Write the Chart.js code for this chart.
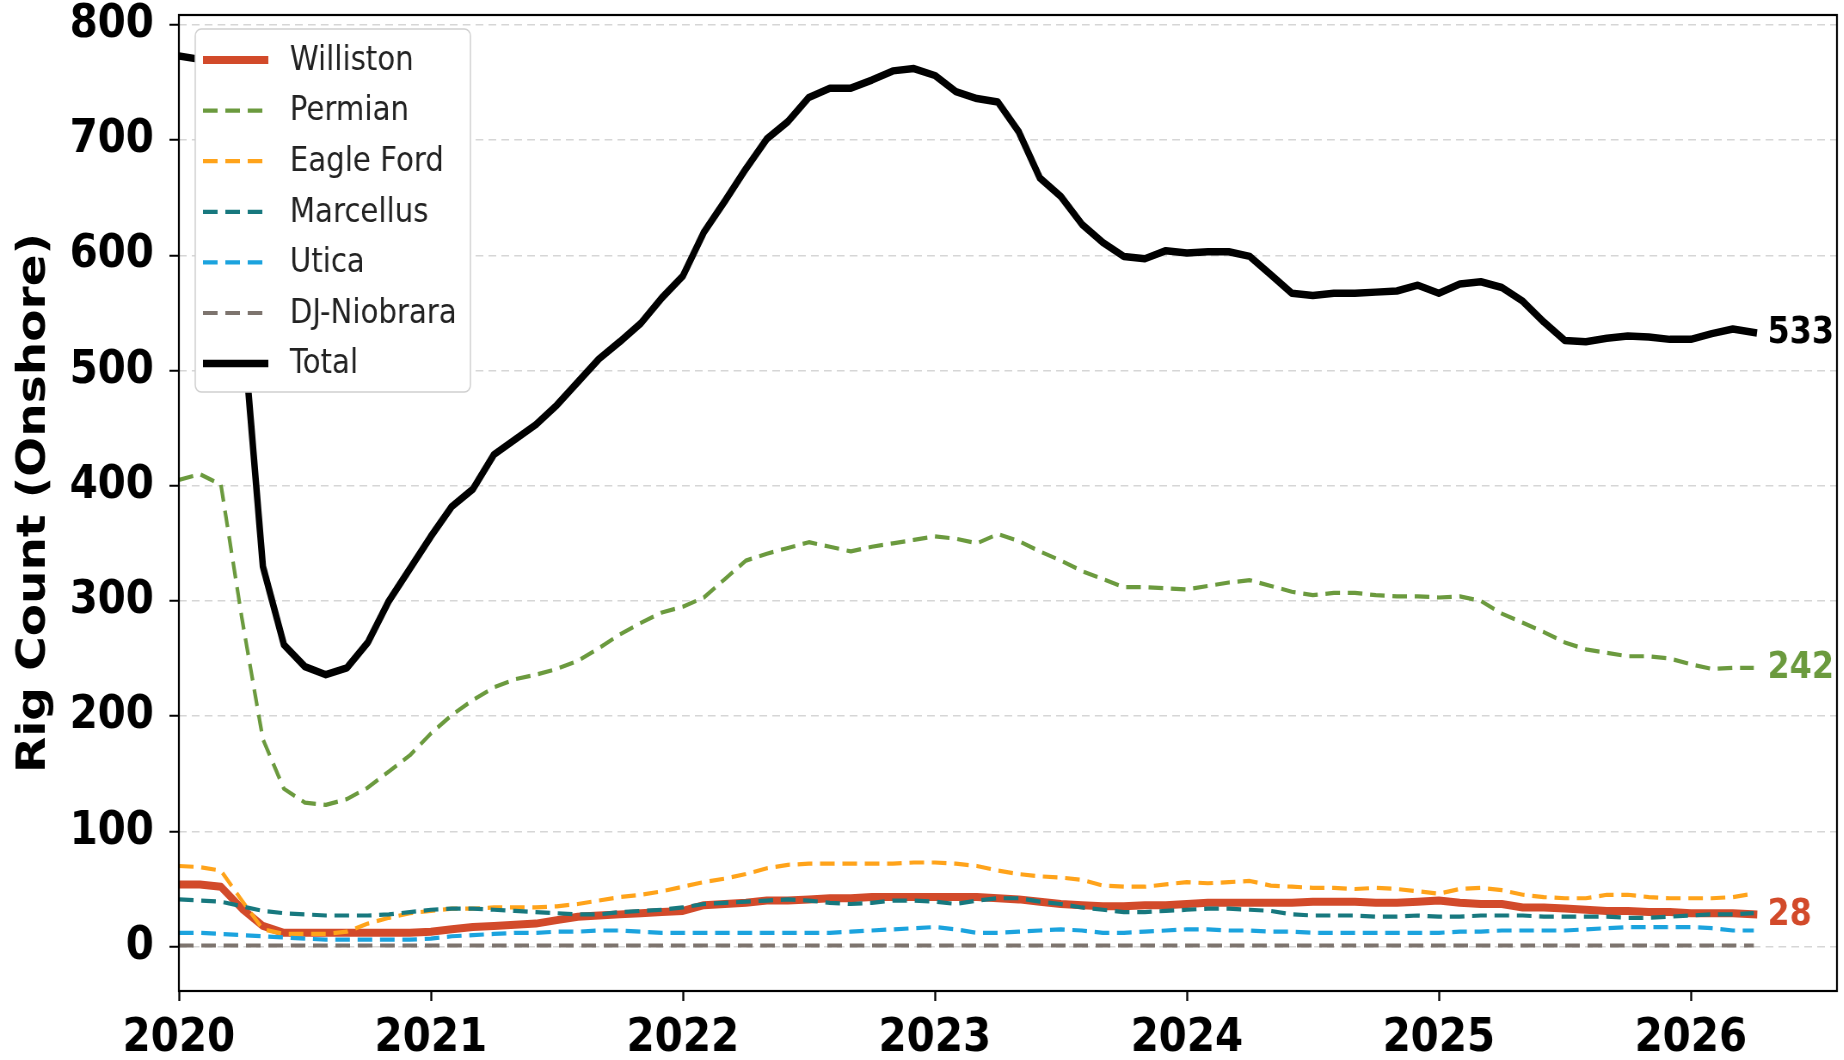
<!DOCTYPE html>
<html>
<head>
<meta charset="utf-8">
<script src="https://cdn.jsdelivr.net/npm/chart.js@4/dist/chart.umd.min.js"></script>
<style>
  html, body { margin: 0; padding: 0; background: #fff; overflow: hidden; }
  /* the reference is a little squeezed sideways, so draw wide and squeeze */
  #wrap { width: 2144px; height: 1060px; transform: scaleX(0.86); transform-origin: 0 0; }
  canvas { display: block; }
</style>
</head>
<body>
<div id="wrap"><canvas id="rig-chart" width="2144" height="1060"></canvas></div>
<script>
'use strict';

// monthly points, Jan 2020 .. Apr 2026
const MONTHS = [
  '2020-01','2020-02','2020-03','2020-04','2020-05','2020-06','2020-07','2020-08','2020-09','2020-10','2020-11','2020-12',
  '2021-01','2021-02','2021-03','2021-04','2021-05','2021-06','2021-07','2021-08','2021-09','2021-10','2021-11','2021-12',
  '2022-01','2022-02','2022-03','2022-04','2022-05','2022-06','2022-07','2022-08','2022-09','2022-10','2022-11','2022-12',
  '2023-01','2023-02','2023-03','2023-04','2023-05','2023-06','2023-07','2023-08','2023-09','2023-10','2023-11','2023-12',
  '2024-01','2024-02','2024-03','2024-04','2024-05','2024-06','2024-07','2024-08','2024-09','2024-10','2024-11','2024-12',
  '2025-01','2025-02','2025-03','2025-04','2025-05','2025-06','2025-07','2025-08','2025-09','2025-10','2025-11','2025-12',
  '2026-01','2026-02','2026-03','2026-04',
];

const WILLISTON = [
  54, 54, 52, 33, 18, 12, 12, 12, 12, 12, 12, 12,
  13, 15, 17, 18, 19, 20, 23, 26, 27, 28, 29, 30,
  31, 36, 37, 38, 40, 40, 41, 42, 42, 43, 43, 43,
  43, 43, 43, 42, 41, 39, 37, 36, 35, 35, 36, 36,
  37, 38, 38, 38, 38, 38, 39, 39, 39, 38, 38, 39,
  40, 38, 37, 37, 34, 34, 33, 32, 31, 31, 30, 30,
  29, 29, 29, 28,
];
const PERMIAN = [
  405, 410, 401, 285, 180, 137, 125, 123, 128, 138, 152, 166,
  185, 201, 214, 225, 232, 236, 241, 248, 259, 271, 281, 290,
  295, 303, 319, 335, 341, 346, 351, 347, 343, 347, 350, 353,
  356, 354, 350, 358, 352, 343, 335, 326, 319, 312, 312, 311,
  310, 313, 316, 318, 313, 308, 305, 307, 307, 305, 304, 304,
  303, 304, 300, 289, 281, 273, 264, 258, 255, 252, 252, 250,
  245, 241, 242, 242,
];
const EAGLE_FORD = [
  70, 69, 66, 40, 15, 11, 11, 11, 13, 20, 25, 29,
  31, 33, 33, 34, 34, 34, 35, 37, 40, 43, 45, 48,
  52, 56, 59, 63, 68, 71, 72, 72, 72, 72, 72, 73,
  73, 72, 70, 66, 63, 61, 60, 58, 53, 52, 52, 54,
  56, 55, 56, 57, 53, 52, 51, 51, 50, 51, 50, 48,
  46, 50, 51, 49, 45, 43, 42, 42, 45, 45, 43, 42,
  42, 42, 43, 46,
];
const MARCELLUS = [
  41, 40, 39, 35, 31, 29, 28, 27, 27, 27, 28, 30,
  32, 33, 33, 32, 31, 30, 29, 28, 28, 30, 31, 32,
  34, 37, 38, 39, 40, 41, 40, 38, 37, 38, 40, 40,
  39, 37, 40, 42, 42, 39, 37, 34, 32, 30, 30, 31,
  32, 33, 33, 32, 31, 28, 27, 27, 27, 26, 26, 27,
  26, 26, 27, 27, 27, 26, 26, 26, 26, 25, 25, 26,
  27, 28, 28, 29,
];
const UTICA = [
  12, 12, 11, 10, 9, 8, 7, 6, 6, 6, 6, 6,
  7, 9, 10, 11, 12, 12, 13, 13, 14, 14, 13, 12,
  12, 12, 12, 12, 12, 12, 12, 12, 13, 14, 15, 16,
  17, 15, 12, 12, 13, 14, 15, 14, 12, 12, 13, 14,
  15, 15, 14, 14, 13, 13, 12, 12, 12, 12, 12, 12,
  12, 13, 13, 14, 14, 14, 14, 15, 16, 17, 17, 17,
  17, 16, 14, 14,
];
const DJ_NIOBRARA = [
  1, 1, 1, 1, 1, 1, 1, 1, 1, 1, 1, 1,
  1, 1, 1, 1, 1, 1, 1, 1, 1, 1, 1, 1,
  1, 1, 1, 1, 1, 1, 1, 1, 1, 1, 1, 1,
  1, 1, 1, 1, 1, 1, 1, 1, 1, 1, 1, 1,
  1, 1, 1, 1, 1, 1, 1, 1, 1, 1, 1, 1,
  1, 1, 1, 1, 1, 1, 1, 1, 1, 1, 1, 1,
  1, 1, 1, 1,
];
const TOTAL = [
  773, 770, 740, 550, 330, 262, 243, 236, 242, 264, 300, 328,
  356, 382, 397, 427, 440, 453, 470, 490, 510, 525, 541, 563,
  582, 620, 647, 675, 701, 716, 737, 745, 745, 752, 760, 762,
  756, 742, 736, 733, 707, 667, 651, 627, 611, 599, 597, 604,
  602, 603, 603, 599, 583, 567, 565, 567, 567, 568, 569, 574,
  567, 575, 577, 572, 560, 542, 526, 525, 528, 530, 529, 527,
  527, 532, 536, 533,
];

const YEAR_TICKS = [2020, 2021, 2022, 2023, 2024, 2025, 2026];
const Y_TICKS = [0, 100, 200, 300, 400, 500, 600, 700, 800];

const FONT = "'DejaVu Sans', 'Liberation Sans', sans-serif";
const DASH = [17, 9];

const SERIES = [
  { label: 'Williston',   values: WILLISTON,   color: '#d24a2a', width: 8,   dash: [] },
  { label: 'Permian',     values: PERMIAN,     color: '#6b9a3e', width: 4.2, dash: DASH },
  { label: 'Eagle Ford',  values: EAGLE_FORD,  color: '#ffa31a', width: 4.2, dash: DASH },
  { label: 'Marcellus',   values: MARCELLUS,   color: '#17787e', width: 4.2, dash: DASH },
  { label: 'Utica',       values: UTICA,       color: '#1ba3de', width: 4.2, dash: DASH },
  { label: 'DJ-Niobrara', values: DJ_NIOBRARA, color: '#7d746e', width: 4.2, dash: DASH },
  { label: 'Total',       values: TOTAL,       color: '#000000', width: 7.5, dash: [] },
];

// value labels at the right end of these lines
const END_LABELS = ['Total', 'Permian', 'Williston'];

function toYear(ym) {
  const [y, m] = ym.split('-').map(Number);
  return y + (m - 1) / 12;
}

const datasets = SERIES.map((s, i) => ({
  label: s.label,
  data: s.values.map((v, k) => ({ x: toYear(MONTHS[k]), y: v })),
  borderColor: s.color,
  backgroundColor: s.color,
  borderWidth: s.width,
  borderDash: s.dash,
  borderCapStyle: s.dash.length ? 'butt' : 'square',
  borderJoinStyle: 'round',
  pointRadius: 0,
  tension: 0,
  fill: false,
  order: SERIES.length - i, // Total on top, Williston at the bottom
}));

// box round the plot area
const framePlugin = {
  id: 'frame',
  afterDatasetsDraw(chart) {
    const { ctx, chartArea: a } = chart;
    ctx.save();
    ctx.strokeStyle = '#000';
    ctx.lineWidth = 2.2;
    ctx.strokeRect(a.left, a.top, a.right - a.left, a.bottom - a.top);
    ctx.restore();
  },
};

const endLabelPlugin = {
  id: 'endLabels',
  afterDatasetsDraw(chart) {
    const { ctx } = chart;
    ctx.save();
    ctx.font = `bold 37px ${FONT}`;
    ctx.textAlign = 'left';
    ctx.textBaseline = 'middle';
    chart.data.datasets.forEach((ds, i) => {
      if (!END_LABELS.includes(ds.label)) return;
      const pts = chart.getDatasetMeta(i).data;
      const last = pts[pts.length - 1];
      ctx.fillStyle = ds.borderColor;
      ctx.fillText(String(ds.data[ds.data.length - 1].y), last.x + 16, last.y + 1);
    });
    ctx.restore();
  },
};

// legend drawn inside the plot, upper left
const legendPlugin = {
  id: 'insideLegend',
  afterDraw(chart) {
    const { ctx } = chart;
    const box = { x: 227, y: 29, w: 320, h: 363, r: 7 };
    ctx.save();
    ctx.beginPath();
    ctx.roundRect(box.x, box.y, box.w, box.h, box.r);
    ctx.fillStyle = '#ffffff';
    ctx.fill();
    ctx.lineWidth = 1.5;
    ctx.strokeStyle = '#d0d0d0';
    ctx.stroke();

    ctx.font = `34px ${FONT}`;
    ctx.textBaseline = 'middle';
    ctx.textAlign = 'left';
    chart.data.datasets.forEach((ds, i) => {
      const y = 60 + i * 50.6;
      ctx.save();
      ctx.strokeStyle = ds.borderColor;
      ctx.lineWidth = ds.borderWidth;
      ctx.setLineDash(ds.borderDash);
      ctx.lineCap = 'butt';
      ctx.beginPath();
      ctx.moveTo(236, y);
      ctx.lineTo(312, y);
      ctx.stroke();
      ctx.restore();
      ctx.fillStyle = '#222';
      ctx.fillText(ds.label, 337, y + 1);
    });
    ctx.restore();
  },
};

const tickFont = { family: FONT, size: 47, weight: 'bold' };

new Chart(document.getElementById('rig-chart'), {
  type: 'line',
  data: { datasets },
  options: {
    responsive: false,
    animation: false,
    devicePixelRatio: 1,
    layout: { padding: { left: 0, right: 8, top: 15, bottom: 0 } },
    plugins: {
      legend: { display: false },
      tooltip: { enabled: false },
    },
    scales: {
      x: {
        type: 'linear',
        min: 2020,
        max: 2026.58,
        afterBuildTicks: (s) => { s.ticks = YEAR_TICKS.map(v => ({ value: v })); },
        afterFit: (s) => { s.height = 69; s.paddingLeft = 0; s.paddingRight = 0; },
        grid: { drawOnChartArea: false, drawTicks: true, tickLength: 10, tickColor: '#000', tickWidth: 2.3 },
        border: { display: false },
        ticks: {
          color: '#000',
          font: tickFont,
          padding: 10,
          maxRotation: 0,
          autoSkip: false,
          callback: (v) => String(v),
        },
      },
      y: {
        min: -38.5,
        max: 808.5,
        afterBuildTicks: (s) => { s.ticks = Y_TICKS.map(v => ({ value: v })); },
        afterFit: (s) => { s.width = 208; s.paddingTop = 0; s.paddingBottom = 0; },
        grid: { color: '#d6d6d6', lineWidth: 1.5, tickLength: 11, tickColor: '#000', tickWidth: 2 },
        border: { display: false, dash: [9, 6] },
        ticks: {
          color: '#000',
          font: tickFont,
          padding: 18,
          autoSkip: false,
          callback: (v) => String(v),
        },
        title: {
          display: true,
          text: 'Rig Count (Onshore)',
          color: '#000',
          font: { family: FONT, size: 47, weight: 'bold' },
          padding: { top: 12, bottom: 0 },
        },
      },
    },
  },
  plugins: [framePlugin, endLabelPlugin, legendPlugin],
});
</script>
</body>
</html>
